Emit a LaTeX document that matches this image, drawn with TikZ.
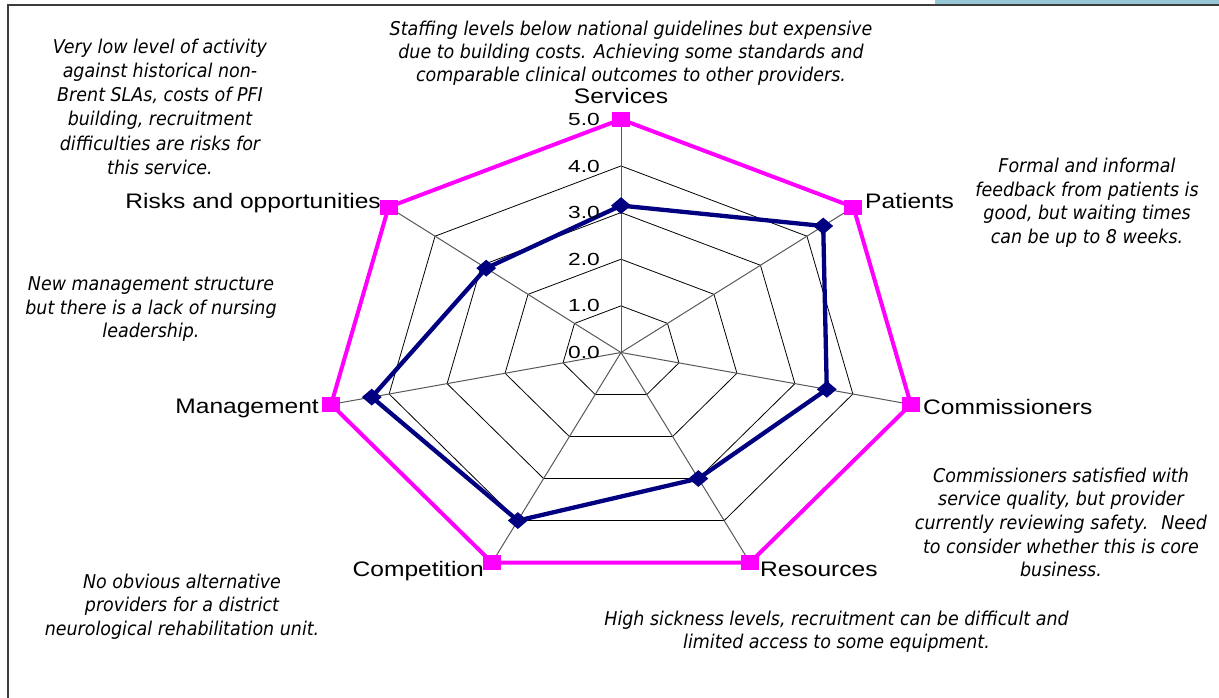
\documentclass[tikz,border=0pt]{standalone}
\usepackage{fontspec}
\setmainfont{Liberation Sans}
\newfontfamily\annotfont[FakeStretch=0.92]{DejaVu Sans}
\newfontfamily\labelfont[FakeStretch=1.17]{Liberation Sans}
\newfontfamily\numfont[FakeStretch=1.3]{Liberation Sans}
\usetikzlibrary{shapes.geometric}
\definecolor{magline}{RGB}{255,0,255}
\definecolor{navyline}{RGB}{0,0,128}
\definecolor{bandblue}{RGB}{150,200,215}
\definecolor{framegray}{RGB}{60,60,60}
\begin{document}
\begin{tikzpicture}[x=1pt,y=-1pt,
  gridline/.style={draw=black, line width=0.8pt},
  spoke/.style={draw=black!65, line width=1pt},
  magpoly/.style={draw=magline, line width=4pt, line join=round},
  bluepoly/.style={draw=navyline, line width=4.3pt, line join=round},
  magsq/.style={rectangle, fill=magline, minimum width=18pt, minimum height=15pt, inner sep=0pt},
  bluedia/.style={diamond, fill=navyline, minimum width=20pt, minimum height=17pt, inner sep=0pt},
  numlab/.style={inner sep=0pt, anchor=east, font=\numfont\fontsize{17.5}{20}\selectfont},
  axlab/.style={inner sep=0pt, font=\labelfont\fontsize{21}{25}\selectfont},
  annot/.style={inner sep=0pt, anchor=base, align=center, font=\annotfont\itshape\fontsize{19}{23.6}\selectfont},
  framestyle/.style={draw=framegray, line width=1.5pt}
]
\useasboundingbox (0,0) rectangle (1219,698);
\fill[white] (0,0) rectangle (1219,698);
\fill[bandblue] (935,0) rectangle (1219,4.5);
\draw[framestyle] (8,698) -- (8,5) -- (1219,5);

\coordinate (C) at (621,352.5);
\begin{scope}[shift={(C)}, x={(59.46pt,0pt)}, y={(0pt,46.64pt)}]
  \coordinate (O) at (0,0);
  \foreach \n/\a/\v in {S/90/3.15, P/38.5714/4.35, Co/-12.8571/3.55, R/-64.2857/3.0, Cm/-115.7143/4.0, M/-167.1429/4.3, Ri/-218.5714/2.9} {
    \coordinate (\n5) at (\a:5);
    \coordinate (\n b) at (\a:\v);
  }
  \foreach \k in {1,2,3,4}
    \draw[gridline] (90:\k) -- (38.5714:\k) -- (-12.8571:\k) -- (-64.2857:\k) -- (-115.7143:\k) -- (-167.1429:\k) -- (-218.5714:\k) -- cycle;
  \foreach \n in {S,P,Co,R,Cm,M,Ri}
    \draw[spoke] (O) -- (\n5);
  \draw[magpoly] (S5) -- (P5) -- (Co5) -- (R5) -- (Cm5) -- (M5) -- (Ri5) -- cycle;
  \draw[bluepoly] (Sb) -- (Pb) -- (Cob) -- (Rb) -- (Cmb) -- (Mb) -- (Rib) -- cycle;
  \foreach \n in {S,P,Co,R,Cm,M,Ri} {
    \node[magsq] (m\n) at (\n5) {};
    \node[bluedia] (d\n) at (\n b) {};
  }
\end{scope}

\node[numlab] (n5) at (600,119.3) {5.0};
\node[numlab] (n4) at (600,166.0) {4.0};
\node[numlab] (n3) at (600,212.6) {3.0};
\node[numlab] (n2) at (600,259.6) {2.0};
\node[numlab] (n1) at (600,305.9) {1.0};
\node[numlab] (n0) at (600,352.5) {0.0};

\node[axlab, anchor=base] (lS) at (621,103.5) {Services};
\node[axlab, anchor=base west] (lP) at (865,208.3) {Patients};
\node[axlab, anchor=base west] (lCo) at (923,414.3) {Commissioners};
\node[axlab, anchor=base west] (lR) at (760,576) {Resources};
\node[axlab, anchor=base east] (lCm) at (484,576) {Competition};
\node[axlab, anchor=base east] (lM) at (319,413.3) {Management};
\node[axlab, anchor=base east] (lRi) at (381,208.3) {Risks and opportunities};

\node[annot, font=\annotfont\itshape\fontsize{19}{23.2}\selectfont] (aS) at (631,81.5) {Staffing levels below national guidelines but expensive\\due to building costs. Achieving some standards and\\comparable clinical outcomes to other providers.};
\node[annot, font=\annotfont\itshape\fontsize{19}{24.2}\selectfont] (aRi) at (160,174.3) {Very low level of activity\\against historical non-\\Brent SLAs, costs of PFI\\building, recruitment\\difficulties are risks for\\this service.};
\node[annot] (aP) at (1087,243.5) {Formal and informal\\feedback from patients is\\good, but waiting times\\can be up to 8 weeks.};
\node[annot] (aCo) at (1061,576.7) {Commissioners satisfied with\\service quality, but provider\\currently reviewing safety.~ Need\\to consider whether this is core\\business.};
\node[annot] (aR) at (836.5,648.6) {High sickness levels, recruitment can be difficult and\\limited access to some equipment.};
\node[annot] (aCm) at (182,635.2) {No obvious alternative\\providers for a district\\neurological rehabilitation unit.};
\node[annot] (aM) at (151,337.9) {New management structure\\but there is a lack of nursing\\leadership.};
\end{tikzpicture}
\end{document}
